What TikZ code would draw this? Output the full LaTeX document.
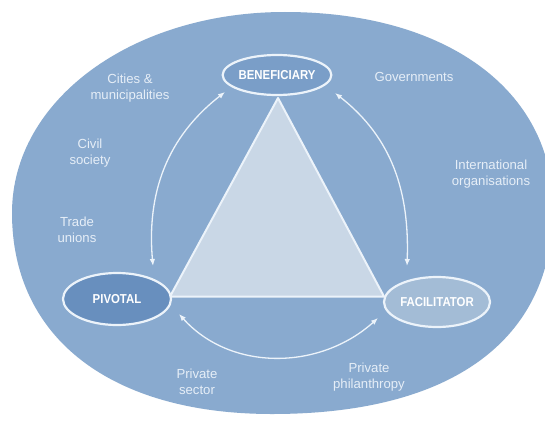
\documentclass[tikz,border=0pt]{standalone}
\usepackage{fontspec}
\setmainfont{Liberation Sans}
\newfontfamily\capfont{Liberation Sans}[FakeStretch=0.88]
\usetikzlibrary{shapes.geometric,arrows.meta}

\definecolor{field}{RGB}{137,170,207}
\definecolor{core}{RGB}{201,215,230}
\definecolor{rim}{RGB}{236,243,250}
\definecolor{bendark}{RGB}{122,158,200}
\definecolor{pivdark}{RGB}{104,143,190}
\definecolor{faclight}{RGB}{163,188,214}
\definecolor{ink}{RGB}{230,238,247}

\tikzset{
  role/.style={ellipse, draw=rim, line width=2.2bp, inner sep=0pt,
    text=white, font=\capfont\bfseries\fontsize{13}{15}\selectfont},
  actor/.style={text=ink, align=center,
    font=\fontsize{13.2}{16.5}\selectfont},
  flow/.style={draw=rim, line width=1.3bp,
    {Latex[length=7bp,width=5.5bp]}-{Latex[length=7bp,width=5.5bp]}},
  edge/.style={draw=rim, line width=2bp, line join=round}
}

\begin{document}
\begin{tikzpicture}[x=1bp,y=1bp]
\useasboundingbox (0,0) rectangle (545,421);
\fill[white] (0,0) rectangle (545,421);

% outer field of stakeholders: an oval, a little fuller towards the bottom
\coordinate (oT) at (285,409);
\coordinate (oR) at (553,213);
\coordinate (oB) at (272,7);
\coordinate (oL) at (12,208);
\begin{scope}
  \clip (0,0) rectangle (545,421);
  \fill[field] (oT)
    .. controls (132,409) and (12,321) .. (oL)
    .. controls (12,83) and (111,7) .. (oB)
    .. controls (452,7) and (553,81) .. (oR)
    .. controls (553,331) and (446,409) .. (oT) -- cycle;
\end{scope}

% central triangle
\coordinate (tA) at (278,323);
\coordinate (tB) at (170,124.5);
\coordinate (tC) at (384,124.5);
\filldraw[edge, fill=core] (tA) -- (tB) -- (tC) -- cycle;

% roles
\node[role, fill=bendark, minimum width=106bp, minimum height=40bp] (ben) at (277,346) {BENEFICIARY};
\node[role, fill=pivdark, minimum width=108bp, minimum height=52bp] (piv) at (117,122) {PIVOTAL};
\node[role, fill=faclight, minimum width=106bp, minimum height=50bp] (fac) at (437,119) {FACILITATOR};

% exchange arrows
\coordinate (l1) at (153,155);
\coordinate (l2) at (225,329);
\coordinate (r1) at (335,328);
\coordinate (r2) at (407,155);
\coordinate (b1) at (179,107);
\coordinate (b2) at (378,103);
\draw[flow] (l1) to[out=95, in=218] (l2);
\draw[flow] (r1) to[out=-38, in=88] (r2);
\draw[flow] (b1) to[out=-48, in=222] (b2);

% stakeholder groups
\node[actor] (cities) at (130,333) {Cities \&\\municipalities};
\node[actor] (civil) at (90,268) {Civil\\society};
\node[actor] (trade) at (77,191) {Trade\\unions};
\node[actor] (gov) at (414,344) {Governments};
\node[actor] (intl) at (491,247) {International\\organisations};
\node[actor] (psec) at (197,39) {Private\\sector};
\node[actor] (phil) at (369,44) {Private\\philanthropy};
\end{tikzpicture}
\end{document}
